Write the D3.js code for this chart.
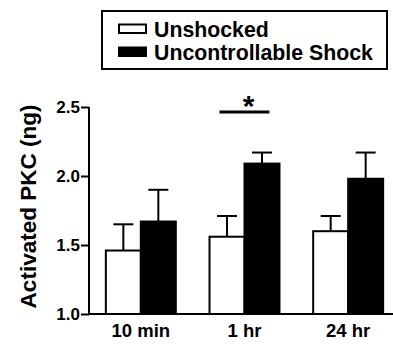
<!DOCTYPE html>
<html>
<head>
<meta charset="utf-8">
<script src="https://cdn.jsdelivr.net/npm/d3@7/dist/d3.min.js"></script>
<style>
  body { margin: 0; background: #fff; }
  text { font-family: "Liberation Sans", Arial, sans-serif; font-weight: bold; fill: #000; }
</style>
</head>
<body>
<div id="chart"></div>
<script>
const groups = ['10 min', '1 hr', '24 hr'];
const seriesNames = ['Unshocked', 'Uncontrollable Shock'];
const unshocked = [1.46, 1.56, 1.60];
const unshockedErr = [0.19, 0.15, 0.11];
const shock = [1.67, 2.09, 1.98];
const shockErr = [0.23, 0.08, 0.19];
const yTicks = [1.0, 1.5, 2.0, 2.5];
const sigGroup = '1 hr';

const width = 393, height = 344;
const margin = { top: 107, right: 0, bottom: 30, left: 89 };
const font = '"Liberation Sans", Arial, sans-serif';

const svg = d3.select('#chart').append('svg')
  .attr('width', width)
  .attr('height', height);

const x = d3.scaleBand().domain(groups).range([margin.left, 400]).paddingInner(0.325).paddingOuter(0.1625);
const x1 = d3.scaleBand().domain(seriesNames).range([0, x.bandwidth()]);
const y = d3.scaleLinear().domain([1.0, 2.5]).range([height - margin.bottom, margin.top]);

const data = groups.map((g, i) => ({
  group: g,
  values: [
    { name: seriesNames[0], v: unshocked[i], e: unshockedErr[i], fill: '#fff' },
    { name: seriesNames[1], v: shock[i], e: shockErr[i], fill: '#000' }
  ]
}));

const g = svg.selectAll('.grp').data(data).enter().append('g')
  .attr('class', 'grp')
  .attr('transform', d => `translate(${x(d.group)},0)`);

// error bars (upward only)
const eb = g.selectAll('.err').data(d => d.values).enter().append('g').attr('class', 'err');
eb.append('line')
  .attr('x1', d => x1(d.name) + x1.bandwidth() / 2)
  .attr('x2', d => x1(d.name) + x1.bandwidth() / 2)
  .attr('y1', d => y(d.v))
  .attr('y2', d => y(d.v + d.e))
  .attr('stroke', '#000').attr('stroke-width', 2);
eb.append('line')
  .attr('x1', d => x1(d.name) + x1.bandwidth() / 2 - 10)
  .attr('x2', d => x1(d.name) + x1.bandwidth() / 2 + 10)
  .attr('y1', d => y(d.v + d.e))
  .attr('y2', d => y(d.v + d.e))
  .attr('stroke', '#000').attr('stroke-width', 2);

g.selectAll('rect').data(d => d.values).enter().append('rect')
  .attr('x', d => x1(d.name))
  .attr('y', d => y(d.v))
  .attr('width', x1.bandwidth())
  .attr('height', d => y(1.0) - y(d.v))
  .attr('fill', d => d.fill)
  .attr('stroke', '#000')
  .attr('stroke-width', 2);

// axes
const yAxis = svg.append('g')
  .attr('transform', `translate(${margin.left},0)`)
  .call(d3.axisLeft(y).tickValues(yTicks).tickFormat(d3.format('.1f')).tickSize(8).tickPadding(1));
yAxis.select('.domain').attr('stroke-width', 2).attr('d', `M0,${y(2.5)}V${y(1.0)}`);
yAxis.selectAll('.tick line').attr('stroke-width', 2);
yAxis.selectAll('.tick text').style('font-size', '17px').style('font-family', font).style('font-weight', 'bold');

const xAxis = svg.append('g')
  .attr('transform', `translate(0,${y(1.0)})`)
  .call(d3.axisBottom(x).tickSize(0).tickPadding(10));
xAxis.select('.domain').attr('stroke-width', 2).attr('d', `M${margin.left},0H${width}`);
xAxis.selectAll('.tick text').style('font-size', '18.5px').style('font-family', font).style('font-weight', 'bold');

// y label
svg.append('text')
  .attr('transform', `translate(36,${(y(1.0) + y(2.5)) / 2 - 4}) rotate(-90)`)
  .attr('text-anchor', 'middle')
  .style('font-size', '22.5px')
  .text('Activated PKC (ng)');

// significance
const sx0 = x(sigGroup) + 10, sx1 = x(sigGroup) + x.bandwidth() - 10;
svg.append('line')
  .attr('x1', sx0).attr('x2', sx1)
  .attr('y1', 112).attr('y2', 112)
  .attr('stroke', '#000').attr('stroke-width', 3);
svg.append('text')
  .attr('x', (sx0 + sx1) / 2 + 4).attr('y', 116)
  .attr('text-anchor', 'middle')
  .style('font-size', '30px')
  .text('*');

// legend
const legend = svg.append('g');
legend.append('rect')
  .attr('x', 102).attr('y', 11).attr('width', 285).attr('height', 58)
  .attr('fill', '#fff').attr('stroke', '#000').attr('stroke-width', 2);
const li = legend.selectAll('.li').data([{ name: seriesNames[0], fill: '#fff' }, { name: seriesNames[1], fill: '#000' }])
  .enter().append('g').attr('transform', (d, i) => `translate(0,${i * 23})`);
li.append('rect')
  .attr('x', 119).attr('y', 24.5).attr('width', 27).attr('height', 8.5)
  .attr('fill', d => d.fill).attr('stroke', '#000').attr('stroke-width', 2);
li.append('text')
  .attr('x', 154).attr('y', 37)
  .style('font-size', '21.3px')
  .text(d => d.name);
</script>
</body>
</html>
